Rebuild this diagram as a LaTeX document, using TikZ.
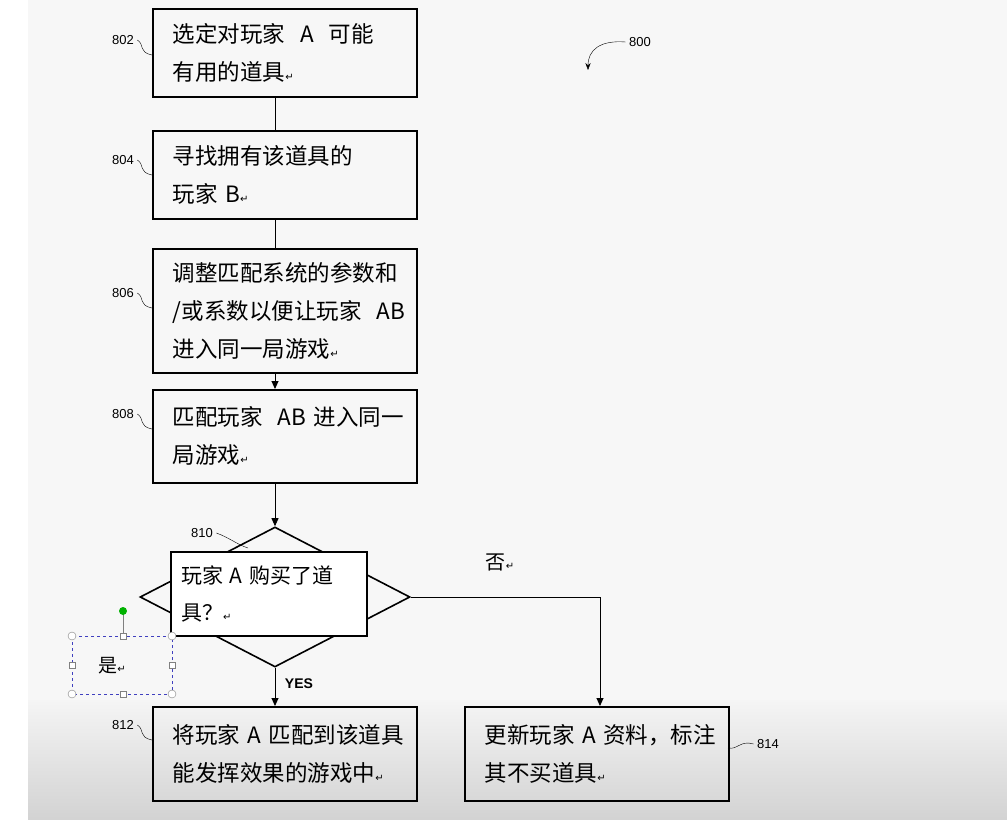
\documentclass[tikz,border=0pt]{standalone}
\usepackage{fontspec}
\setmainfont{Liberation Sans}
\newfontfamily\cjk{Noto Sans CJK SC}
\newfontfamily\symfont{DejaVu Sans}
\newcommand{\ret}{{\symfont\fontsize{10}{10}\selectfont ↵}}
\usetikzlibrary{positioning,arrows.meta,shapes.geometric}
\tikzset{
  stepbox/.style={draw,line width=1.6pt,minimum width=264pt,align=left,anchor=north west,
    inner sep=0pt,text width=240pt,font=\cjk\fontsize{22.5}{38}\selectfont},
  reflabel/.style={font=\fontsize{13}{15}\selectfont},
  flow/.style={line width=0.9pt,-{Triangle[length=8pt,width=7pt]}},
}
\begin{document}
\begin{tikzpicture}[x=1pt,y=-1pt]
 	\useasboundingbox (0,0) rectangle (1007,829);
 	\fill[white] (0,0) rectangle (1007,829);
 	\fill[gray!6] (28,0) rectangle (1007,700);
 	\shade[top color=gray!8,bottom color=gray!35] (28,700) rectangle (1007,820);
 	\fill[white] (0,820) rectangle (1007,829);
 	% steps
 	\node[stepbox,minimum height=88pt] (s802) at (152,8) {\hspace*{8pt}\parbox{250pt}{选定对玩家\ \ A\ \ 可能\\有用的道具\ret}};
 	\node[stepbox,minimum height=88pt] (s804) at (152,130) {\hspace*{8pt}\parbox{250pt}{寻找拥有该道具的\\玩家 B\ret}};
 	\node[stepbox,minimum height=124pt] (s806) at (152,248) {\hspace*{8pt}\parbox{250pt}{调整匹配系统的参数和\\/或系数以便让玩家\ \ AB\\进入同一局游戏\ret}};
 	\node[stepbox,minimum height=93pt] (s808) at (152,389) {\hspace*{8pt}\parbox{250pt}{匹配玩家\ \ AB\ 进入同一\\局游戏\ret}};
 	\node[stepbox,minimum height=94pt] (s812) at (152,706) {\hspace*{8pt}\parbox{250pt}{将玩家 A 匹配到该道具\\能发挥效果的游戏中\ret}};
 	\node[stepbox,minimum height=94pt] (s814) at (464,706) {\hspace*{8pt}\parbox{250pt}{更新玩家 A 资料，标注\\其不买道具\ret}};
 	% decision
 	\node[draw,diamond,line width=1.6pt,minimum width=270pt,minimum height=140pt,inner sep=0pt,aspect=1.93] (d810) at (275,597) {};
 	\node[draw,fill=white,line width=1.2pt,minimum width=196pt,minimum height=84pt,align=left,
 	  font=\cjk\fontsize{21}{37}\selectfont,text width=176pt] (q810) at (269,594) {玩家 A 购买了道\\具？\ret};
 	\coordinate (c814) at (600,597);
 	% connectors
 	\draw[line width=0.9pt] (s802.south -| 275,0) -- (s804.north -| 275,0);
 	\draw[line width=0.9pt] (s804.south -| 275,0) -- (s806.north -| 275,0);
 	\draw[flow] (s806.south -| 275,0) -- (s808.north -| 275,0);
 	\draw[flow] (s808.south -| 275,0) -- (d810.north);
 	\draw[flow] (d810.south) -- (s812.north -| 275,0);
 	\draw[flow] (d810.east) -- (c814) -- (s814.north -| c814);
 	\node[font=\bfseries\fontsize{14}{16}\selectfont] (yes) at (299,684) {YES};
 	\node[font=\cjk\fontsize{20}{20}\selectfont] (no) at (500,562) {否\ret};
 	% reference numbers
 	\node[reflabel] (r802) at (123,40) {802};
 	\node[reflabel] (r804) at (123,160) {804};
 	\node[reflabel] (r806) at (123,293) {806};
 	\node[reflabel] (r808) at (123,414) {808};
 	\node[reflabel] (r810) at (202,533) {810};
 	\node[reflabel] (r812) at (123,725) {812};
 	\node[reflabel] (r814) at (768,744) {814};
 	\node[reflabel] (r800) at (640,42) {800};
 	\draw (r802.east) .. controls (145,45) and (138,52) .. (152,55);
 	\draw (r804.east) .. controls (145,165) and (138,172) .. (152,175);
 	\draw (r806.east) .. controls (145,298) and (138,305) .. (152,308);
 	\draw (r808.east) .. controls (145,419) and (138,426) .. (152,429);
 	\draw (r810.east) .. controls (230,538) and (238,545) .. (248,548);
 	\draw (r812.east) .. controls (145,730) and (138,737) .. (152,740);
 	\draw (r814.west) .. controls (740,740) and (738,750) .. (728,748);
 	\draw[-{Stealth[length=7pt]}] (r800.west) .. controls (600,40) and (588,50) .. (588,70);
 	% selection box
 	\draw[dashed,blue!50!gray] (72,636) rectangle (172,694);
 	\node[font=\cjk\fontsize{19}{20}\selectfont] (shi) at (112,666) {是\ret};
 	\draw[gray] (123,611) -- (123,636);
 	\fill[green!70!black] (123,611) circle (4pt);
 	\foreach \p in {(72,636),(172,636),(72,694),(172,694)}
 	  \draw[gray,fill=white] \p circle (4pt);
 	\foreach \p in {(123,636),(72,665),(172,665),(123,694)}
 	  \draw[gray,fill=white] \p ++(-3,-3) rectangle ++(6,6);
\end{tikzpicture}
\end{document}
